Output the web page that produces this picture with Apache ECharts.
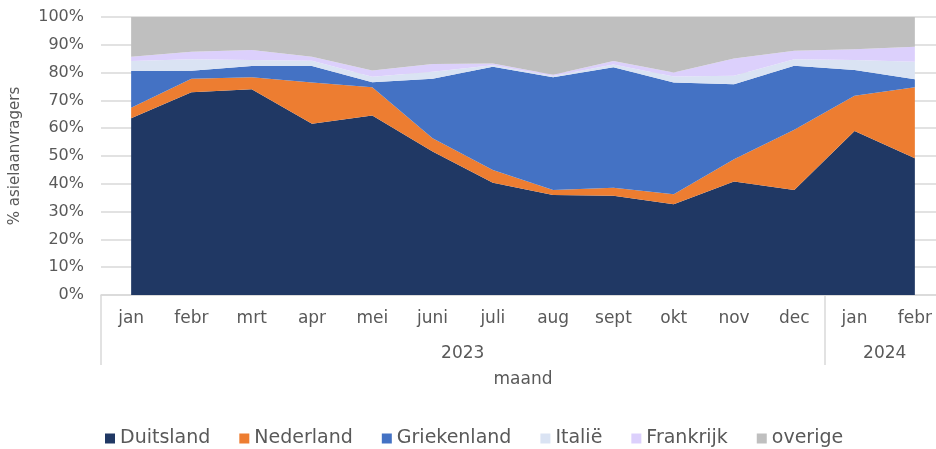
<!DOCTYPE html>
<html lang="nl">
<head>
<meta charset="UTF-8">
<script src="https://cdn.jsdelivr.net/npm/echarts@6/dist/echarts.min.js"></script>
<title>asielaanvragers per maand</title>
<style>
  html, body { margin: 0; padding: 0; background: #fff; overflow: hidden; }
  /* iets breder dan het venster: de laatste kolom loopt net buiten beeld, zoals in het origineel */
  #chart { width: 945px; height: 449px; }
</style>
</head>
<body>
<div id="chart"></div>
<script>
// maanden en jaren
var months = ['jan', 'febr', 'mrt', 'apr', 'mei', 'juni', 'juli', 'aug', 'sept', 'okt', 'nov', 'dec', 'jan', 'febr'];
var years = ['2023', '2024'];
var monthsPerYear = [12, 2];

// aandeel (%) per land
var duitsland   = [63.6, 72.9, 74.0, 61.6, 64.6, 51.6, 40.4, 36.0, 35.7, 32.6, 40.8, 37.8, 59.0, 49.2];
var nederland   = [3.8, 4.9, 4.3, 14.8, 10.1, 4.8, 4.6, 1.8, 2.9, 3.6, 8.0, 21.6, 12.7, 25.5];
var griekenland = [13.2, 2.9, 4.1, 6.0, 1.8, 21.4, 37.1, 40.5, 43.3, 40.2, 27.0, 23.1, 9.2, 2.9];
var italie      = [3.6, 4.1, 2.1, 1.9, 2.0, 2.5, 0.5, 0.5, 1.0, 2.2, 3.1, 2.3, 3.6, 6.3];
var frankrijk   = [1.5, 2.7, 3.6, 1.4, 2.3, 2.8, 0.7, 0.4, 1.3, 1.4, 6.2, 3.1, 3.9, 5.4];
var overige     = [14.3, 12.5, 11.9, 14.3, 19.2, 16.9, 16.7, 20.8, 15.8, 20.0, 14.9, 12.1, 11.6, 10.7];

var seriesNames = ['Duitsland', 'Nederland', 'Griekenland', 'Italië', 'Frankrijk', 'overige'];
var seriesData = [duitsland, nederland, griekenland, italie, frankrijk, overige];
var colors = ['#203864', '#ed7d31', '#4472c4', '#dae3f3', '#dcd0fc', '#bfbfbf'];

// grenzen en midden van elk jaar op de maand-as
var yearBounds = [0];
var yearMids = [];
for (var i = 0; i < monthsPerYear.length; i++) {
  yearMids.push(yearBounds[i] + monthsPerYear[i] / 2);
  yearBounds.push(yearBounds[i] + monthsPerYear[i]);
}

var font = 'DejaVu Sans';
var grey = '#595959';
var lineGrey = '#d9d9d9';

var chart = echarts.init(document.getElementById('chart'));

var series = [];
for (var i = 0; i < seriesNames.length; i++) {
  series.push({
    name: seriesNames[i],
    type: 'line',
    stack: 'totaal',
    data: seriesData[i],
    showSymbol: false,
    lineStyle: { width: 0 },
    areaStyle: { color: colors[i], opacity: 1 },
    itemStyle: { color: colors[i] },
    z: 2
  });
}

var option = {
  animation: false,
  textStyle: { fontFamily: font },
  grid: { left: 101, right: 0, top: 17, bottom: 154 },
  legend: {
    left: 100,
    top: 424,
    icon: 'rect',
    itemWidth: 10,
    itemHeight: 10,
    itemGap: 29,
    textStyle: { fontFamily: font, fontSize: 19, color: grey },
    data: seriesNames
  },
  xAxis: [
    {
      type: 'category',
      data: months,
      boundaryGap: true,
      axisLine: { lineStyle: { color: lineGrey, width: 1.5 } },
      axisTick: { length: 35, lineStyle: { color: lineGrey, width: 1.5 } },
      axisLabel: { fontFamily: font, fontSize: 17, color: grey, margin: 15, interval: 0 },
      name: 'maand',
      nameLocation: 'middle',
      nameGap: 76,
      nameTextStyle: { fontFamily: font, fontSize: 17, color: grey }
    },
    {
      type: 'value',
      min: 0,
      max: months.length,
      position: 'bottom',
      axisLine: { show: false },
      splitLine: { show: false },
      axisTick: {
        show: true,
        customValues: yearBounds,
        length: 70,
        lineStyle: { color: lineGrey, width: 1.5 }
      },
      axisLabel: {
        customValues: yearMids,
        fontFamily: font,
        fontSize: 17,
        color: grey,
        margin: 50,
        formatter: function (v) {
          var idx = yearMids.indexOf(v);
          return idx >= 0 ? years[idx] : '';
        }
      }
    }
  ],
  yAxis: {
    type: 'value',
    min: 0,
    max: 100,
    interval: 10,
    axisLine: { show: false },
    axisTick: { show: false },
    splitLine: { lineStyle: { color: lineGrey, width: 1.5 } },
    axisLabel: { fontFamily: font, fontSize: 16, color: grey, margin: 17, formatter: '{value}%' },
    name: '% asielaanvragers',
    nameLocation: 'middle',
    nameGap: 78,
    nameTextStyle: { fontFamily: font, fontSize: 15, color: grey }
  },
  series: series
};

chart.setOption(option);
</script>
</body>
</html>
